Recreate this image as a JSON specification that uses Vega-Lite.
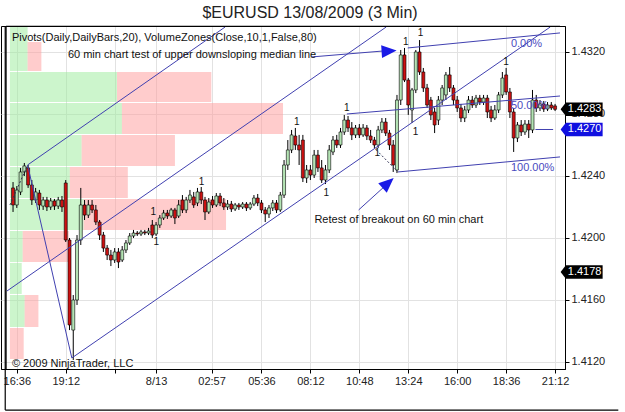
{
"$schema": "https://vega.github.io/schema/vega-lite/v6.json",
"autosize": "none",
"width": 564, "height": 343,
"padding": {"left": 1, "top": 26, "right": 60, "bottom": 43},
"background": "white",
"config": {"view": {"stroke": "black", "strokeWidth": 1}, "font": "Liberation Sans"},
"title": {"text": "$EURUSD 13/08/2009 (3 Min)", "fontSize": 16, "font": "Liberation Sans", "fontWeight": "normal", "color": "#222222", "anchor": "middle", "frame": "group", "dx": 27, "dy": 18, "offset": 6, "baseline": "bottom"},
"datasets": {
"zones": [
{"side":"up","x0":16.235,"x1":17.174,"lo":1.43077,"hi":1.43361},
{"side":"down","x0":17.174,"x1":17.905,"lo":1.43077,"hi":1.43265},
{"side":"up","x0":16.235,"x1":21.924,"lo":1.42877,"hi":1.43071},
{"side":"down","x0":21.924,"x1":26.934,"lo":1.42877,"hi":1.43071},
{"side":"up","x0":16.235,"x1":22.185,"lo":1.42671,"hi":1.42871},
{"side":"down","x0":22.185,"x1":30.744,"lo":1.42671,"hi":1.42871},
{"side":"up","x0":16.235,"x1":20.045,"lo":1.42465,"hi":1.42665},
{"side":"down","x0":20.045,"x1":25.003,"lo":1.42465,"hi":1.42665},
{"side":"up","x0":16.235,"x1":19.418,"lo":1.42258,"hi":1.42458},
{"side":"down","x0":19.418,"x1":22.498,"lo":1.42258,"hi":1.42458},
{"side":"up","x0":16.235,"x1":20.149,"lo":1.42052,"hi":1.42252},
{"side":"down","x0":20.149,"x1":27.717,"lo":1.42052,"hi":1.42252},
{"side":"up","x0":16.235,"x1":16.913,"lo":1.41845,"hi":1.42045},
{"side":"down","x0":16.913,"x1":19.366,"lo":1.41845,"hi":1.42045},
{"side":"up","x0":16.235,"x1":16.861,"lo":1.41639,"hi":1.41839},
{"side":"up","x0":16.235,"x1":17.018,"lo":1.41426,"hi":1.41632},
{"side":"down","x0":17.018,"x1":17.748,"lo":1.41426,"hi":1.41632},
{"side":"down","x0":16.235,"x1":16.965,"lo":1.41219,"hi":1.41419}
],
"candles": [
{"t":16.4,"o":1.42323,"hi":1.42361,"lo":1.42168,"c":1.42213},
{"t":16.6,"o":1.42213,"hi":1.42335,"lo":1.42194,"c":1.42310},
{"t":16.8,"o":1.42297,"hi":1.42452,"lo":1.42277,"c":1.42426},
{"t":17.0,"o":1.42426,"hi":1.42484,"lo":1.42400,"c":1.42465},
{"t":17.2,"o":1.42452,"hi":1.42471,"lo":1.42323,"c":1.42342},
{"t":17.4,"o":1.42342,"hi":1.42374,"lo":1.42213,"c":1.42245},
{"t":17.6,"o":1.42245,"hi":1.42323,"lo":1.42226,"c":1.42297},
{"t":17.8,"o":1.42290,"hi":1.42310,"lo":1.42181,"c":1.42213},
{"t":18.0,"o":1.42206,"hi":1.42265,"lo":1.42181,"c":1.42245},
{"t":18.2,"o":1.42245,"hi":1.42265,"lo":1.42174,"c":1.42200},
{"t":18.4,"o":1.42200,"hi":1.42258,"lo":1.42181,"c":1.42239},
{"t":18.6,"o":1.42239,"hi":1.42252,"lo":1.42181,"c":1.42206},
{"t":18.8,"o":1.42206,"hi":1.42265,"lo":1.42187,"c":1.42245},
{"t":19.0,"o":1.42245,"hi":1.42271,"lo":1.42168,"c":1.42200},
{"t":19.2,"o":1.42355,"hi":1.42374,"lo":1.41974,"c":1.41987},
{"t":19.4,"o":1.41987,"hi":1.42000,"lo":1.41406,"c":1.41439},
{"t":19.6,"o":1.41406,"hi":1.41632,"lo":1.41213,"c":1.41600},
{"t":19.8,"o":1.41600,"hi":1.42019,"lo":1.41568,"c":1.41987},
{"t":20.0,"o":1.41987,"hi":1.42323,"lo":1.41955,"c":1.42213},
{"t":20.2,"o":1.42213,"hi":1.42245,"lo":1.42116,"c":1.42148},
{"t":20.4,"o":1.42148,"hi":1.42245,"lo":1.42129,"c":1.42213},
{"t":20.6,"o":1.42213,"hi":1.42245,"lo":1.42161,"c":1.42181},
{"t":20.8,"o":1.42181,"hi":1.42213,"lo":1.42084,"c":1.42103},
{"t":21.0,"o":1.42103,"hi":1.42116,"lo":1.41987,"c":1.42019},
{"t":21.2,"o":1.42019,"hi":1.42039,"lo":1.41910,"c":1.41935},
{"t":21.4,"o":1.41935,"hi":1.41955,"lo":1.41858,"c":1.41890},
{"t":21.6,"o":1.41890,"hi":1.41923,"lo":1.41819,"c":1.41858},
{"t":21.8,"o":1.41858,"hi":1.41935,"lo":1.41839,"c":1.41910},
{"t":22.0,"o":1.41910,"hi":1.41935,"lo":1.41806,"c":1.41845},
{"t":22.2,"o":1.41858,"hi":1.41948,"lo":1.41845,"c":1.41923},
{"t":22.4,"o":1.41923,"hi":1.41987,"lo":1.41903,"c":1.41968},
{"t":22.6,"o":1.41968,"hi":1.42032,"lo":1.41955,"c":1.42013},
{"t":22.8,"o":1.42013,"hi":1.42052,"lo":1.42000,"c":1.42032},
{"t":23.0,"o":1.42032,"hi":1.42045,"lo":1.42013,"c":1.42026},
{"t":23.2,"o":1.42026,"hi":1.42052,"lo":1.42013,"c":1.42039},
{"t":23.4,"o":1.42039,"hi":1.42052,"lo":1.42019,"c":1.42032},
{"t":23.6,"o":1.42032,"hi":1.42065,"lo":1.42019,"c":1.42045},
{"t":23.8,"o":1.42084,"hi":1.42116,"lo":1.42000,"c":1.42019},
{"t":24.0,"o":1.42026,"hi":1.42103,"lo":1.42013,"c":1.42084},
{"t":24.2,"o":1.42084,"hi":1.42148,"lo":1.42065,"c":1.42129},
{"t":24.4,"o":1.42129,"hi":1.42181,"lo":1.42116,"c":1.42161},
{"t":24.6,"o":1.42161,"hi":1.42181,"lo":1.42123,"c":1.42142},
{"t":24.8,"o":1.42142,"hi":1.42194,"lo":1.42129,"c":1.42181},
{"t":25.0,"o":1.42181,"hi":1.42194,"lo":1.42090,"c":1.42129},
{"t":25.2,"o":1.42142,"hi":1.42245,"lo":1.42129,"c":1.42213},
{"t":25.4,"o":1.42245,"hi":1.42277,"lo":1.42161,"c":1.42181},
{"t":25.6,"o":1.42181,"hi":1.42265,"lo":1.42161,"c":1.42245},
{"t":25.8,"o":1.42245,"hi":1.42310,"lo":1.42226,"c":1.42277},
{"t":26.0,"o":1.42265,"hi":1.42297,"lo":1.42194,"c":1.42213},
{"t":26.2,"o":1.42226,"hi":1.42323,"lo":1.42206,"c":1.42297},
{"t":26.4,"o":1.42297,"hi":1.42329,"lo":1.42219,"c":1.42245},
{"t":26.6,"o":1.42245,"hi":1.42265,"lo":1.42116,"c":1.42168},
{"t":26.8,"o":1.42168,"hi":1.42258,"lo":1.42155,"c":1.42232},
{"t":27.0,"o":1.42245,"hi":1.42271,"lo":1.42194,"c":1.42213},
{"t":27.2,"o":1.42213,"hi":1.42290,"lo":1.42200,"c":1.42271},
{"t":27.4,"o":1.42271,"hi":1.42290,"lo":1.42206,"c":1.42226},
{"t":27.6,"o":1.42226,"hi":1.42258,"lo":1.42181,"c":1.42200},
{"t":27.8,"o":1.42200,"hi":1.42245,"lo":1.42181,"c":1.42219},
{"t":28.0,"o":1.42219,"hi":1.42239,"lo":1.42168,"c":1.42187},
{"t":28.2,"o":1.42187,"hi":1.42226,"lo":1.42174,"c":1.42213},
{"t":28.4,"o":1.42213,"hi":1.42226,"lo":1.42181,"c":1.42200},
{"t":28.6,"o":1.42200,"hi":1.42232,"lo":1.42187,"c":1.42219},
{"t":28.8,"o":1.42219,"hi":1.42232,"lo":1.42174,"c":1.42194},
{"t":29.0,"o":1.42194,"hi":1.42232,"lo":1.42181,"c":1.42219},
{"t":29.2,"o":1.42219,"hi":1.42277,"lo":1.42206,"c":1.42258},
{"t":29.4,"o":1.42258,"hi":1.42284,"lo":1.42206,"c":1.42226},
{"t":29.6,"o":1.42226,"hi":1.42245,"lo":1.42161,"c":1.42181},
{"t":29.8,"o":1.42181,"hi":1.42200,"lo":1.42103,"c":1.42155},
{"t":30.0,"o":1.42155,"hi":1.42213,"lo":1.42129,"c":1.42194},
{"t":30.2,"o":1.42194,"hi":1.42245,"lo":1.42174,"c":1.42226},
{"t":30.4,"o":1.42226,"hi":1.42245,"lo":1.42161,"c":1.42181},
{"t":30.6,"o":1.42181,"hi":1.42297,"lo":1.42168,"c":1.42277},
{"t":30.8,"o":1.42277,"hi":1.42503,"lo":1.42258,"c":1.42471},
{"t":31.0,"o":1.42471,"hi":1.42632,"lo":1.42439,"c":1.42568},
{"t":31.2,"o":1.42568,"hi":1.42697,"lo":1.42548,"c":1.42665},
{"t":31.4,"o":1.42658,"hi":1.42710,"lo":1.42568,"c":1.42600},
{"t":31.6,"o":1.42600,"hi":1.42665,"lo":1.42471,"c":1.42568},
{"t":31.8,"o":1.42632,"hi":1.42665,"lo":1.42361,"c":1.42387},
{"t":32.0,"o":1.42387,"hi":1.42471,"lo":1.42355,"c":1.42439},
{"t":32.2,"o":1.42439,"hi":1.42471,"lo":1.42374,"c":1.42406},
{"t":32.4,"o":1.42406,"hi":1.42568,"lo":1.42387,"c":1.42535},
{"t":32.6,"o":1.42535,"hi":1.42568,"lo":1.42426,"c":1.42452},
{"t":32.8,"o":1.42452,"hi":1.42503,"lo":1.42355,"c":1.42374},
{"t":33.0,"o":1.42374,"hi":1.42471,"lo":1.42348,"c":1.42439},
{"t":33.2,"o":1.42439,"hi":1.42600,"lo":1.42419,"c":1.42568},
{"t":33.4,"o":1.42555,"hi":1.42658,"lo":1.42535,"c":1.42632},
{"t":33.6,"o":1.42632,"hi":1.42665,"lo":1.42581,"c":1.42600},
{"t":33.8,"o":1.42600,"hi":1.42710,"lo":1.42581,"c":1.42684},
{"t":34.0,"o":1.42684,"hi":1.42794,"lo":1.42665,"c":1.42761},
{"t":34.2,"o":1.42761,"hi":1.42787,"lo":1.42684,"c":1.42710},
{"t":34.4,"o":1.42710,"hi":1.42748,"lo":1.42632,"c":1.42665},
{"t":34.6,"o":1.42665,"hi":1.42729,"lo":1.42645,"c":1.42710},
{"t":34.8,"o":1.42710,"hi":1.42735,"lo":1.42645,"c":1.42665},
{"t":35.0,"o":1.42665,"hi":1.42735,"lo":1.42652,"c":1.42710},
{"t":35.2,"o":1.42710,"hi":1.42729,"lo":1.42632,"c":1.42658},
{"t":35.4,"o":1.42658,"hi":1.42697,"lo":1.42613,"c":1.42632},
{"t":35.6,"o":1.42632,"hi":1.42652,"lo":1.42581,"c":1.42600},
{"t":35.8,"o":1.42600,"hi":1.42723,"lo":1.42581,"c":1.42697},
{"t":36.0,"o":1.42697,"hi":1.42774,"lo":1.42677,"c":1.42748},
{"t":36.2,"o":1.42748,"hi":1.42774,"lo":1.42658,"c":1.42677},
{"t":36.4,"o":1.42677,"hi":1.42697,"lo":1.42568,"c":1.42600},
{"t":36.6,"o":1.42600,"hi":1.42632,"lo":1.42426,"c":1.42471},
{"t":36.8,"o":1.42439,"hi":1.42923,"lo":1.42419,"c":1.42890},
{"t":37.0,"o":1.42890,"hi":1.43213,"lo":1.42858,"c":1.43181},
{"t":37.2,"o":1.43181,"hi":1.43226,"lo":1.43006,"c":1.43019},
{"t":37.4,"o":1.43019,"hi":1.43032,"lo":1.42794,"c":1.42858},
{"t":37.6,"o":1.42826,"hi":1.42968,"lo":1.42742,"c":1.42955},
{"t":37.8,"o":1.42955,"hi":1.43213,"lo":1.42935,"c":1.43200},
{"t":38.0,"o":1.43200,"hi":1.43277,"lo":1.43052,"c":1.43071},
{"t":38.2,"o":1.43071,"hi":1.43097,"lo":1.42942,"c":1.42968},
{"t":38.4,"o":1.42968,"hi":1.42994,"lo":1.42839,"c":1.42858},
{"t":38.6,"o":1.42890,"hi":1.42910,"lo":1.42761,"c":1.42794},
{"t":38.8,"o":1.42813,"hi":1.42839,"lo":1.42677,"c":1.42729},
{"t":39.0,"o":1.42761,"hi":1.42916,"lo":1.42729,"c":1.42890},
{"t":39.2,"o":1.42890,"hi":1.42987,"lo":1.42858,"c":1.42968},
{"t":39.4,"o":1.42923,"hi":1.43071,"lo":1.42890,"c":1.43052},
{"t":39.6,"o":1.43052,"hi":1.43103,"lo":1.42942,"c":1.42968},
{"t":39.8,"o":1.42968,"hi":1.42987,"lo":1.42858,"c":1.42890},
{"t":40.0,"o":1.42890,"hi":1.42916,"lo":1.42813,"c":1.42839},
{"t":40.2,"o":1.42839,"hi":1.42865,"lo":1.42748,"c":1.42774},
{"t":40.4,"o":1.42774,"hi":1.42852,"lo":1.42748,"c":1.42826},
{"t":40.6,"o":1.42826,"hi":1.42916,"lo":1.42806,"c":1.42890},
{"t":40.8,"o":1.42890,"hi":1.42916,"lo":1.42839,"c":1.42858},
{"t":41.0,"o":1.42858,"hi":1.42923,"lo":1.42839,"c":1.42903},
{"t":41.2,"o":1.42903,"hi":1.42923,"lo":1.42858,"c":1.42877},
{"t":41.4,"o":1.42877,"hi":1.42923,"lo":1.42858,"c":1.42903},
{"t":41.6,"o":1.42903,"hi":1.42923,"lo":1.42774,"c":1.42813},
{"t":41.8,"o":1.42826,"hi":1.42852,"lo":1.42748,"c":1.42774},
{"t":42.0,"o":1.42774,"hi":1.42858,"lo":1.42761,"c":1.42826},
{"t":42.2,"o":1.42826,"hi":1.42942,"lo":1.42806,"c":1.42923},
{"t":42.4,"o":1.42923,"hi":1.43071,"lo":1.42903,"c":1.43032},
{"t":42.6,"o":1.43052,"hi":1.43097,"lo":1.42923,"c":1.42942},
{"t":42.8,"o":1.42942,"hi":1.42968,"lo":1.42774,"c":1.42813},
{"t":43.0,"o":1.42813,"hi":1.42839,"lo":1.42555,"c":1.42645},
{"t":43.2,"o":1.42645,"hi":1.42748,"lo":1.42619,"c":1.42729},
{"t":43.4,"o":1.42729,"hi":1.42761,"lo":1.42658,"c":1.42684},
{"t":43.6,"o":1.42684,"hi":1.42761,"lo":1.42665,"c":1.42735},
{"t":43.8,"o":1.42735,"hi":1.42761,"lo":1.42645,"c":1.42697},
{"t":44.0,"o":1.42697,"hi":1.42955,"lo":1.42677,"c":1.42890},
{"t":44.2,"o":1.42890,"hi":1.42923,"lo":1.42813,"c":1.42839},
{"t":44.4,"o":1.42839,"hi":1.42890,"lo":1.42819,"c":1.42865},
{"t":44.6,"o":1.42865,"hi":1.42884,"lo":1.42813,"c":1.42832},
{"t":44.8,"o":1.42832,"hi":1.42877,"lo":1.42819,"c":1.42858},
{"t":45.0,"o":1.42858,"hi":1.42877,"lo":1.42826,"c":1.42839},
{"t":45.2,"o":1.42852,"hi":1.42865,"lo":1.42819,"c":1.42830}
],
"segs": [
{"t1":17.174,"p1":1.42471,"t2":27.665,"p2":1.43361},
{"t1":16.078,"p1":1.41658,"t2":36.224,"p2":1.43361},
{"t1":19.523,"p1":1.41226,"t2":44.940,"p2":1.43361},
{"t1":17.174,"p1":1.42471,"t2":19.523,"p2":1.41226},
{"t1":37.372,"p1":1.43226,"t2":45.462,"p2":1.43323},
{"t1":34.137,"p1":1.42800,"t2":45.462,"p2":1.42916},
{"t1":36.85,"p1":1.42426,"t2":45.462,"p2":1.42523},
{"t1":44.157,"p1":1.4270,"t2":45.097,"p2":1.4270},
{"t1":32.258,"p1":1.43168,"t2":36.015,"p2":1.43206},
{"t1":34.763,"p1":1.42181,"t2":36.224,"p2":1.42342}
],
"dashsegs": [
{"t1":16.235,"p1":1.42213,"t2":17.174,"p2":1.42471},
{"t1":35.702,"p1":1.42568,"t2":36.85,"p2":1.42426}
],
"frame": [
{"t1":16.03,"p1":1.43365,"t2":45.462,"p2":1.43365},
{"t1":16.03,"p1":1.43368,"t2":16.03,"p2":1.411548},
{"t1":15.985,"p1":1.43368,"t2":15.985,"p2":1.4089},
{"t1":15.985,"p1":1.4089,"t2":48.56,"p2":1.4089}
],
"arrows": [
{"t":36.381,"p":1.43206,"dir":-4},
{"t":36.328,"p":1.42355,"dir":-42}
],
"ones": [
{"t":23.855,"p":1.42168},{"t":24.011,"p":1.41974},{"t":26.412,"p":1.42361},
{"t":31.475,"p":1.42748},{"t":33.041,"p":1.42290},{"t":34.137,"p":1.42839},
{"t":35.754,"p":1.42548},{"t":37.268,"p":1.43265},{"t":38.051,"p":1.43323},
{"t":37.790,"p":1.42684},{"t":42.592,"p":1.43136}
],
"notes": [
{"t":16.339,"p":1.43290,"text":"Pivots(Daily,DailyBars,20), VolumeZones(Close,10,1,False,80)"},
{"t":19.314,"p":1.43181,"text":"60 min chart test of upper downsloping median line"},
{"t":32.414,"p":1.42116,"text":"Retest of breakout on 60 min chart"},
{"t":16.339,"p":1.41187,"text":"© 2009 NinjaTrader, LLC"}
],
"pcts": [
{"t":42.853,"p":1.43252,"text":"0.00%"},
{"t":42.853,"p":1.42852,"text":"50.00%"},
{"t":42.853,"p":1.42452,"text":"100.00%"}
],
"tags": [
{"p":1.4283,"kind":"last"},
{"p":1.4270,"kind":"order"},
{"p":1.4178,"kind":"pp"}
]
},
"layer": [
{"data": {"name": "zones"}, "mark": {"type": "rect", "opacity": 0.5},
 "encoding": {
  "x": {"field": "x0", "type": "quantitative", "title": null, "scale": {"domain": [16.026, 45.462], "nice": false, "zero": false},
        "axis": {"orient": "bottom", "title": null, "values": [16.6, 19.2, 21.8, 24, 26.95, 29.6, 32.2, 34.8, 37.4, 40, 42.6, 45.2],
                 "labelExpr": "datum.value==16.6?'16:36':datum.value==19.2?'19:12':datum.value==21.8?'':datum.value==24?'8/13':datum.value==26.95?'02:57':datum.value==29.6?'05:36':datum.value==32.2?'08:12':datum.value==34.8?'10:48':datum.value==37.4?'13:24':datum.value==40?'16:00':datum.value==42.6?'18:36':'21:12'",
                 "grid": true, "gridColor": "#e2e2e2", "domain": true, "domainColor": "#000000", "tickColor": "#000000", "tickSize": 4, "labelFontSize": 11, "labelColor": "#222222", "labelPadding": 2, "labelFlush": false, "labelOverlap": false, "labelFont": "Liberation Sans"}},
  "x2": {"field": "x1"},
  "y": {"field": "lo", "type": "quantitative", "title": null, "scale": {"domain": [1.411548, 1.433677], "nice": false, "zero": false},
        "axis": {"orient": "right", "title": null, "values": [1.412, 1.414, 1.416, 1.418, 1.42, 1.422, 1.424, 1.426, 1.428, 1.43, 1.432], "format": ".4f",
                 "grid": true, "gridColor": "#e2e2e2", "domain": true, "domainColor": "#000000", "tickColor": "#000000", "tickSize": 4, "labelFontSize": 11, "labelColor": "#222222", "labelPadding": 2, "labelFlush": false, "labelOverlap": false, "labelFont": "Liberation Sans"}},
  "y2": {"field": "hi"},
  "color": {"field": "side", "type": "nominal", "scale": {"domain": ["up", "down"], "range": ["#99eb99", "#ff9999"]}, "legend": null}
 }},
{"data": {"name": "candles"}, "mark": {"type": "rule", "color": "#000000", "strokeWidth": 1},
 "encoding": {"x": {"field": "t", "type": "quantitative", "title": null}, "y": {"field": "lo", "type": "quantitative", "title": null}, "y2": {"field": "hi"}}},
{"data": {"name": "candles"}, "mark": {"type": "bar", "width": 3, "stroke": "#000000", "strokeWidth": 0.6},
 "encoding": {"x": {"field": "t", "type": "quantitative", "title": null}, "y": {"field": "o", "type": "quantitative", "title": null}, "y2": {"field": "c"},
  "fill": {"condition": {"test": "datum.c >= datum.o", "value": "#b4e4b4"}, "value": "#cc1111"}}},
{"data": {"name": "segs"}, "mark": {"type": "rule", "color": "#4040b0", "strokeWidth": 1},
 "encoding": {"x": {"field": "t1", "type": "quantitative", "title": null}, "y": {"field": "p1", "type": "quantitative", "title": null}, "x2": {"field": "t2"}, "y2": {"field": "p2"}}},
{"data": {"name": "dashsegs"}, "mark": {"type": "rule", "color": "#333355", "strokeWidth": 1, "strokeDash": [2, 2]},
 "encoding": {"x": {"field": "t1", "type": "quantitative", "title": null}, "y": {"field": "p1", "type": "quantitative", "title": null}, "x2": {"field": "t2"}, "y2": {"field": "p2"}}},
{"data": {"name": "frame"}, "mark": {"type": "rule", "color": "#000000", "strokeWidth": 1.2},
 "encoding": {"x": {"field": "t1", "type": "quantitative", "title": null}, "y": {"field": "p1", "type": "quantitative", "title": null}, "x2": {"field": "t2"}, "y2": {"field": "p2"}}},
{"mark": {"type": "rule", "color": "#000000", "strokeWidth": 1},
 "encoding": {"x": {"datum": 44.157, "type": "quantitative", "title": null}, "x2": {"datum": 45.097}, "y": {"datum": 1.4178, "type": "quantitative", "title": null}}},
{"data": {"name": "arrows"}, "mark": {"type": "point", "shape": "M-1,-0.85L1,0L-1,0.85Z", "filled": true, "color": "#1a1ae6", "opacity": 1, "size": 225},
 "encoding": {"x": {"field": "t", "type": "quantitative", "title": null}, "y": {"field": "p", "type": "quantitative", "title": null}, "angle": {"field": "dir", "type": "quantitative", "scale": null}}},
{"data": {"name": "ones"}, "mark": {"type": "text", "fontSize": 10, "color": "#111111", "align": "center", "baseline": "middle", "font": "Liberation Sans"},
 "encoding": {"x": {"field": "t", "type": "quantitative", "title": null}, "y": {"field": "p", "type": "quantitative", "title": null}, "text": {"value": "1"}}},
{"data": {"name": "notes"}, "mark": {"type": "text", "fontSize": 11, "color": "#111111", "align": "left", "baseline": "middle", "font": "Liberation Sans"},
 "encoding": {"x": {"field": "t", "type": "quantitative", "title": null}, "y": {"field": "p", "type": "quantitative", "title": null}, "text": {"field": "text"}}},
{"data": {"name": "pcts"}, "mark": {"type": "text", "fontSize": 11, "color": "#4a4ac0", "align": "left", "baseline": "middle", "font": "Liberation Sans"},
 "encoding": {"x": {"field": "t", "type": "quantitative", "title": null}, "y": {"field": "p", "type": "quantitative", "title": null}, "text": {"field": "text"}}},
{"mark": {"type": "text", "fontSize": 11, "color": "#111111", "align": "right", "baseline": "middle", "font": "Liberation Sans"},
 "encoding": {"x": {"datum": 44.105, "type": "quantitative", "title": null}, "y": {"datum": 1.4178, "type": "quantitative", "title": null}, "text": {"value": "PP"}}},
{"data": {"name": "tags"}, "mark": {"type": "point", "shape": "M-1,0L-0.75,-0.32L1,-0.32L1,0.32L-0.75,0.32Z", "filled": true, "opacity": 1, "size": 1764, "strokeWidth": 0},
 "encoding": {"x": {"datum": 46.61, "type": "quantitative", "title": null}, "y": {"field": "p", "type": "quantitative", "title": null},
  "fill": {"field": "kind", "type": "nominal", "scale": {"domain": ["last", "order", "pp"], "range": ["#000000", "#1010e0", "#000000"]}, "legend": null}}},
{"data": {"name": "tags"}, "mark": {"type": "text", "fontSize": 11, "color": "#ffffff", "align": "center", "baseline": "middle", "font": "Liberation Sans"},
 "encoding": {"x": {"datum": 46.77, "type": "quantitative", "title": null}, "y": {"field": "p", "type": "quantitative", "title": null}, "text": {"field": "p", "type": "quantitative", "format": ".4f"}}}
]
}
